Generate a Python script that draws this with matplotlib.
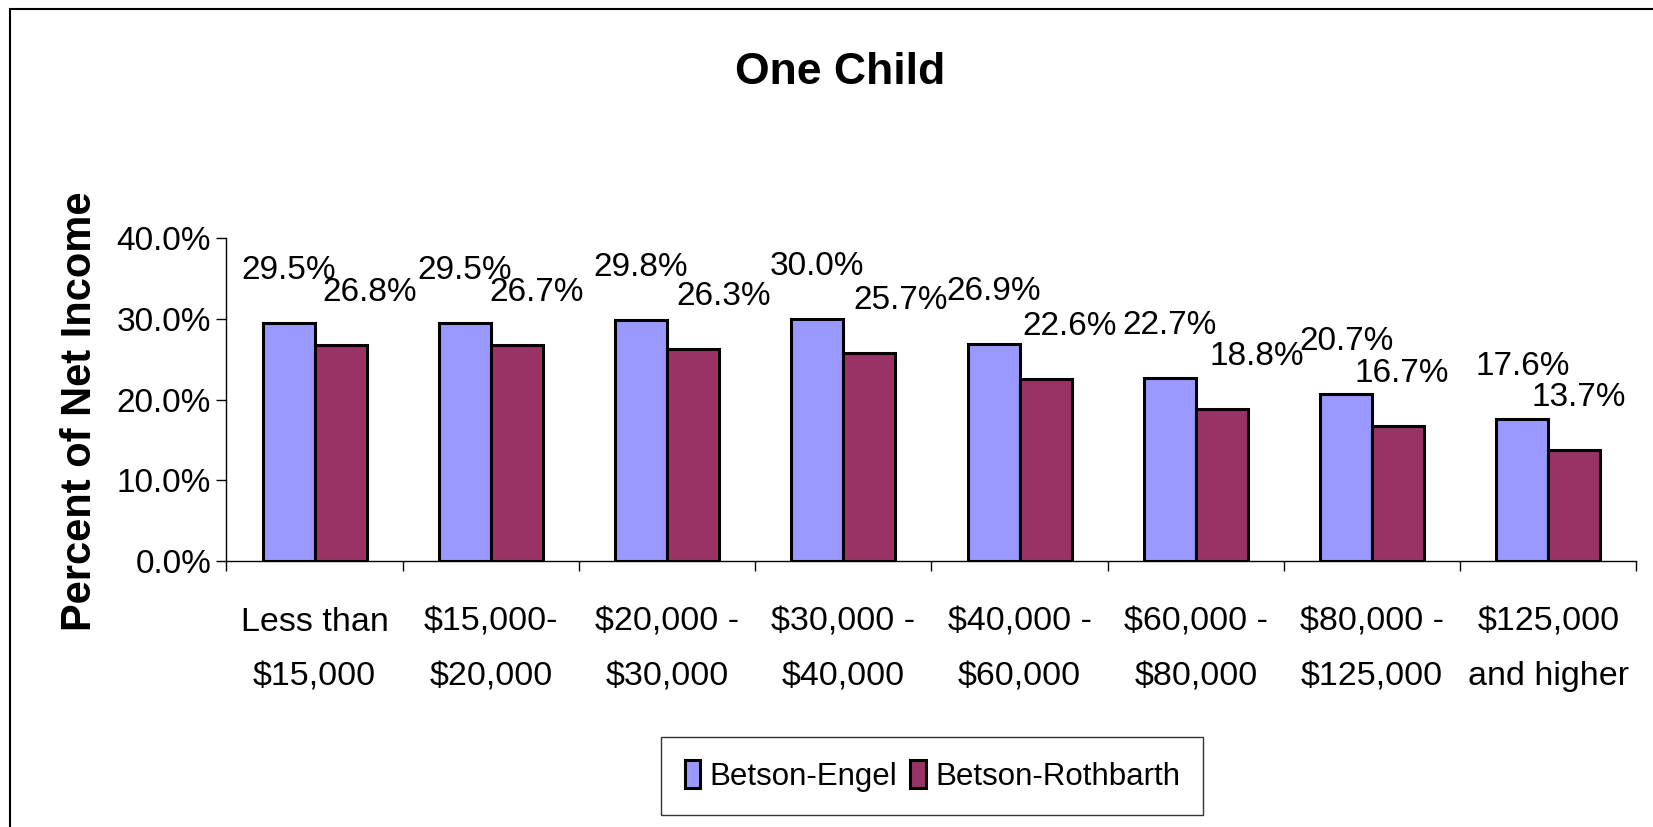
import matplotlib.pyplot as plt
from matplotlib.patches import Rectangle
import numpy as np

plt.rcParams['font.family'] = ['Liberation Sans', 'DejaVu Sans']

categories = ['Less than\n$15,000', '$15,000-\n$20,000', '$20,000 -\n$30,000',
              '$30,000 -\n$40,000', '$40,000 -\n$60,000', '$60,000 -\n$80,000',
              '$80,000 -\n$125,000', '$125,000\nand higher']
engel = [29.5, 29.5, 29.8, 30.0, 26.9, 22.7, 20.7, 17.6]
rothbarth = [26.8, 26.7, 26.3, 25.7, 22.6, 18.8, 16.7, 13.7]
series_names = ['Betson-Engel', 'Betson-Rothbarth']
yticks = [0, 10, 20, 30, 40]

# Excel nudged some of the red labels sideways to avoid overlaps (pixels)
red_label_shift = [29, 20, 31, 31, 24, 35, 4, 4]

BLUE = '#9999FF'
RED = '#993366'

fig = plt.figure(figsize=(16.53, 8.27), dpi=100)
ax = fig.add_axes([0.137, 0.3216, 0.853, 0.3906])

x = np.arange(len(categories))
w = 0.295
b1 = ax.bar(x - w / 2, engel, w, color=BLUE, edgecolor='black', linewidth=2.2, label=series_names[0])
b2 = ax.bar(x + w / 2, rothbarth, w, color=RED, edgecolor='black', linewidth=2.2, label=series_names[1])

px = 0.72  # points per pixel at dpi 100
for rect, v in zip(b1, engel):
    ax.annotate(f'{v:.1f}%', (rect.get_x() + rect.get_width() / 2, v),
                xytext=(0, 37 * px), textcoords='offset points',
                ha='center', va='bottom', fontsize=24)
for rect, v, s in zip(b2, rothbarth, red_label_shift):
    ax.annotate(f'{v:.1f}%', (rect.get_x() + rect.get_width() / 2, v),
                xytext=(s * px, 37 * px), textcoords='offset points',
                ha='center', va='bottom', fontsize=24)

ax.set_xlim(-0.5, len(categories) - 0.5)
ax.set_ylim(0, 40)
ax.set_yticks(yticks)
ax.set_yticklabels([f'{t:.1f}%' for t in yticks], fontsize=24)
ax.tick_params(axis='y', length=7, width=1, pad=4)

# category labels between boundary ticks
ax.set_xticks(np.arange(len(categories) + 1) - 0.5)
ax.set_xticklabels([])
ax.tick_params(axis='x', length=7, width=1)
for i, c in enumerate(categories):
    ax.annotate(c, (i, 0), xytext=(0, -33), textcoords='offset points',
                ha='center', va='top', fontsize=24.5, linespacing=1.98,
                annotation_clip=False)

for sp in ['top', 'right']:
    ax.spines[sp].set_visible(False)
for sp in ['left', 'bottom']:
    ax.spines[sp].set_linewidth(1)

ax.set_ylabel('Percent of Net Income', fontsize=30, fontweight='bold')
ax.yaxis.set_label_coords(-0.090, 0.464)
fig.text(0.508, 0.912, 'One Child', ha='center', va='center', fontsize=32, fontweight='bold')

leg = fig.legend(handles=[b1, b2], loc='center', bbox_to_anchor=(0.564, 0.0617),
                 ncol=2, fontsize=22.5, frameon=True, fancybox=False, shadow=False,
                 handlelength=0.5, handleheight=1.0, handletextpad=0.3,
                 columnspacing=0.4, borderpad=0.75, borderaxespad=0)
leg.get_frame().set_edgecolor('black')
leg.get_frame().set_linewidth(1)

# outer chart-area border (only top and left visible in the reference)
fig.patches.append(Rectangle((10 / 1653, -0.2), 1.2, 1.2 - 9 / 827,
                             transform=fig.transFigure, fill=False,
                             edgecolor='black', linewidth=1.5))

fig.savefig('out.png', dpi=100)
